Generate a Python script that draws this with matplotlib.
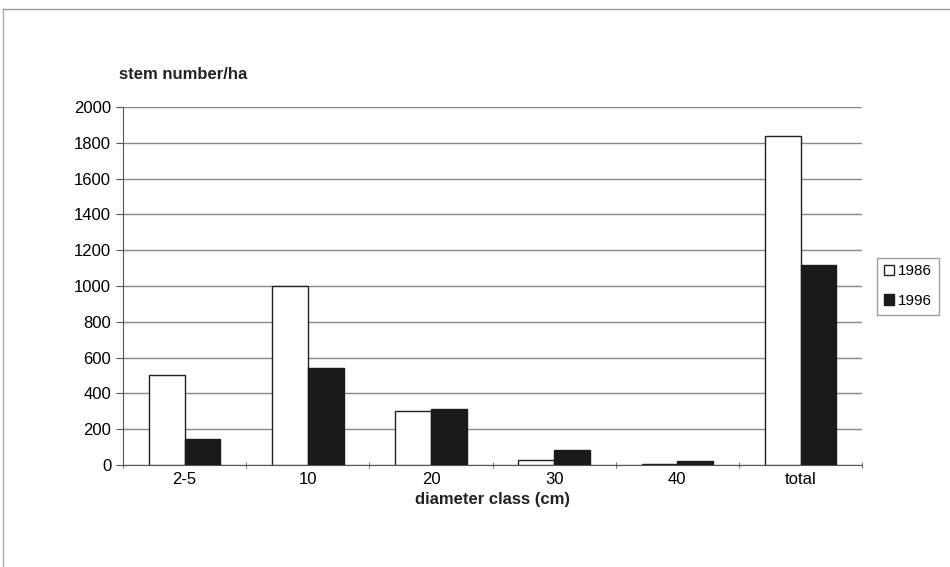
import matplotlib.pyplot as plt
import numpy as np

plt.rcParams['font.family'] = ['Liberation Sans', 'DejaVu Sans']

classes = ['2-5', '10', '20', '30', '40', 'total']
stems_1986 = [500, 1000, 300, 30, 5, 1840]
stems_1996 = [145, 540, 315, 85, 20, 1115]

fig = plt.figure(figsize=(9.5, 5.67), dpi=100)
ax = fig.add_axes([0.1295, 0.18, 0.778, 0.631])

x = np.arange(len(classes))
w = 0.29
ax.bar(x - w / 2, stems_1986, w, color='white', edgecolor='#222222', linewidth=1, label='1986', zorder=3)
ax.bar(x + w / 2, stems_1996, w, color='#1a1a1a', edgecolor='#1a1a1a', linewidth=1, label='1996', zorder=3)

ax.set_xlim(-0.5, len(classes) - 0.5)
ax.set_ylim(0, 2000)
ax.set_yticks(np.arange(0, 2001, 200))
ax.yaxis.grid(True, color='#888888', linewidth=1)
ax.set_axisbelow(True)

# category labels centred, ticks at the boundaries
ax.set_xticks(x)
ax.set_xticklabels(classes)
ax.tick_params(axis='x', length=0, pad=5, labelsize=12)
ax.set_xticks(np.arange(-0.5, len(classes)), minor=True)
ax.tick_params(axis='x', which='minor', length=5, direction='inout', color='#555555')
ax.tick_params(axis='y', length=5, color='#555555', labelsize=12)

for s in ['top', 'right']:
    ax.spines[s].set_visible(False)
ax.spines['left'].set_color('#555555')
ax.spines['bottom'].set_color('#555555')

ax.set_xlabel('diameter class (cm)', fontsize=12, fontweight='bold', labelpad=4, color='#222222')
fig.text(0.125, 0.855, 'stem number/ha', fontsize=12, fontweight='bold', color='#222222', va='bottom')

ax.legend(loc='center left', bbox_to_anchor=(1.02, 0.5), frameon=True, fancybox=False,
          edgecolor='#888888', fontsize=11, handlelength=0.7, handleheight=0.7,
          handletextpad=0.25, borderpad=0.45, borderaxespad=0, labelspacing=1.0)

# thin frame around the whole picture
fig.add_artist(plt.Line2D([0.003, 0.003], [0.0, 0.985], color='#aaaaaa', linewidth=1, transform=fig.transFigure))
fig.add_artist(plt.Line2D([0.003, 1.0], [0.985, 0.985], color='#999999', linewidth=1, transform=fig.transFigure))

fig.savefig('out.png', dpi=100)
